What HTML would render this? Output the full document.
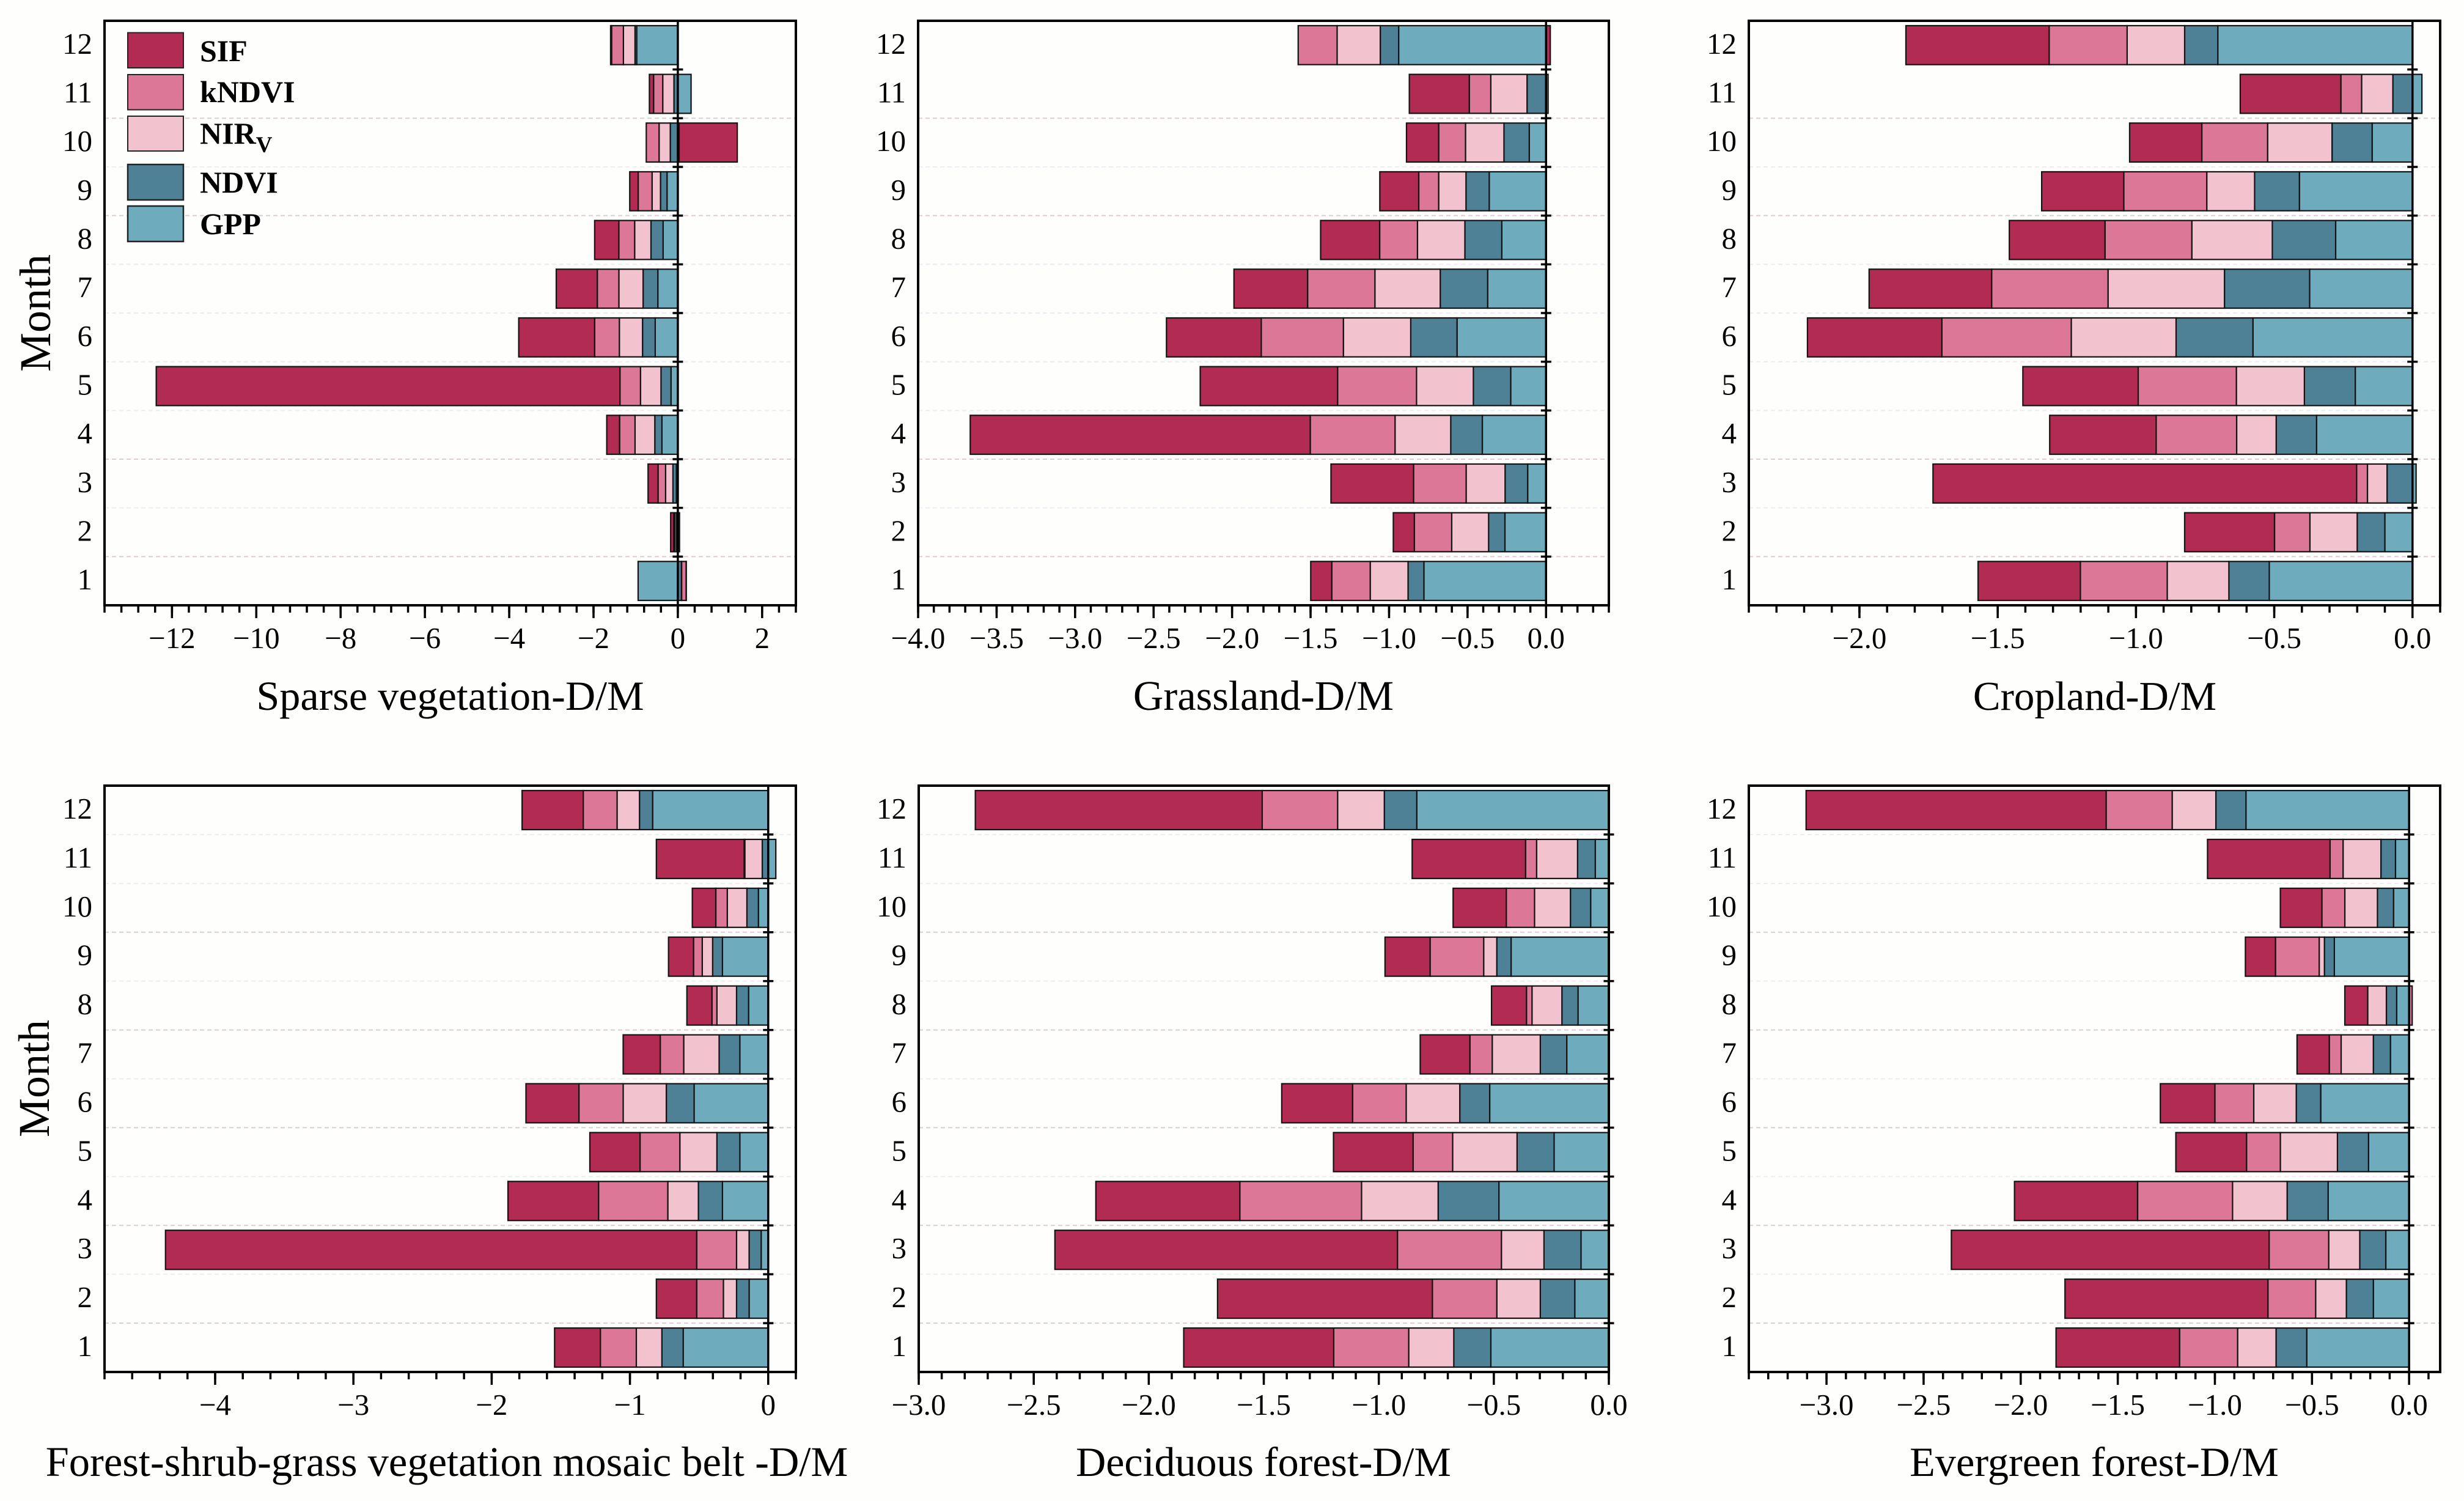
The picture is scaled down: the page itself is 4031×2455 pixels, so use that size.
<!DOCTYPE html>
<html lang="en">
<head>
<meta charset="utf-8">
<title>Monthly D/M stacked bars by vegetation type</title>
<style>
html,body{margin:0;padding:0;background:#fefefd;}
svg{display:block;}
text{font-family:"Liberation Serif",serif;fill:#000;}
</style>
</head>
<body>
<svg id="chart" xmlns="http://www.w3.org/2000/svg" width="4031" height="2455" viewBox="0 0 4031 2455">
<rect x="0" y="0" width="4031" height="2455" fill="#fefefd"/>
<g id="panels"></g>
<text transform="translate(82,512) rotate(-90)" text-anchor="middle" font-size="72">Month</text>
<text transform="translate(80,1764) rotate(-90)" text-anchor="middle" font-size="72">Month</text>
<g>
<rect x="209" y="53.5" width="91" height="57.5" fill="#b22b52" stroke="#222" stroke-width="2"/>
<rect x="209" y="122" width="91" height="57.5" fill="#dd7797" stroke="#222" stroke-width="2"/>
<rect x="209" y="190" width="91" height="57" fill="#f2c2cf" stroke="#222" stroke-width="2"/>
<rect x="209" y="269" width="91" height="58" fill="#4f8196" stroke="#222" stroke-width="2.5"/>
<rect x="209" y="337" width="91" height="58" fill="#6eacbd" stroke="#222" stroke-width="2.5"/>
<text x="327" y="100" font-size="50" font-weight="bold">SIF</text>
<text x="327" y="167" font-size="50" font-weight="bold">kNDVI</text>
<text x="327" y="235" font-size="50" font-weight="bold">NIR<tspan font-size="37" dy="14">V</tspan></text>
<text x="327" y="315" font-size="50" font-weight="bold">NDVI</text>
<text x="327" y="383" font-size="50" font-weight="bold">GPP</text>
</g>
</svg>
<script>
// Categories
const months = [1,2,3,4,5,6,7,8,9,10,11,12];

// Values are month 1 to month 12. Negative values stack left of zero, positive values stack right.
const sparseGPP   = [-0.942,0.04,-0.034,-0.377,-0.162,-0.537,-0.474,-0.35,-0.256,0.03,0.314,-0.976];
const sparseNDVI  = [0.087,-0.03,-0.082,-0.169,-0.237,-0.30,-0.35,-0.287,-0.155,-0.179,-0.092,-0.04];
const sparseNIRV  = [0.004,-0.04,-0.174,-0.469,-0.487,-0.55,-0.574,-0.387,-0.2,-0.266,-0.266,-0.275];
const sparseKNDVI = [0.106,-0.03,-0.179,-0.367,-0.487,-0.587,-0.512,-0.375,-0.33,-0.304,-0.217,-0.28];
const sparseSIF   = [0.004,-0.07,-0.237,-0.304,-11.0,-1.8,-0.974,-0.574,-0.2,1.38,-0.10,-0.024];

const grassGPP   = [-0.778,-0.262,-0.117,-0.406,-0.225,-0.567,-0.372,-0.282,-0.362,-0.107,0.013,-0.939];
const grassNDVI  = [-0.101,-0.104,-0.144,-0.201,-0.238,-0.295,-0.302,-0.235,-0.148,-0.161,-0.121,-0.117];
const grassNIRV  = [-0.241,-0.235,-0.248,-0.355,-0.362,-0.429,-0.416,-0.302,-0.174,-0.245,-0.231,-0.275];
const grassKNDVI = [-0.245,-0.238,-0.335,-0.54,-0.503,-0.523,-0.429,-0.241,-0.127,-0.171,-0.137,-0.248];
const grassSIF   = [-0.134,-0.134,-0.526,-2.166,-0.875,-0.604,-0.469,-0.376,-0.248,-0.205,-0.382,0.027];

const cropGPP   = [-0.518,-0.1,0.013,-0.347,-0.207,-0.577,-0.372,-0.278,-0.409,-0.146,0.034,-0.704];
const cropNDVI  = [-0.146,-0.1,-0.092,-0.146,-0.184,-0.278,-0.308,-0.229,-0.162,-0.145,-0.071,-0.12];
const cropNIRV  = [-0.223,-0.171,-0.071,-0.143,-0.246,-0.379,-0.421,-0.291,-0.173,-0.233,-0.113,-0.208];
const cropKNDVI = [-0.314,-0.128,-0.039,-0.291,-0.355,-0.468,-0.421,-0.314,-0.30,-0.238,-0.075,-0.282];
const cropSIF   = [-0.37,-0.325,-1.532,-0.385,-0.417,-0.486,-0.443,-0.346,-0.297,-0.261,-0.364,-0.518];

const mosaicGPP   = [-0.615,-0.138,-0.051,-0.331,-0.205,-0.536,-0.205,-0.142,-0.331,-0.071,0.055,-0.836];
const mosaicNDVI  = [-0.154,-0.091,-0.087,-0.174,-0.166,-0.201,-0.15,-0.087,-0.071,-0.083,-0.043,-0.095];
const mosaicNIRV  = [-0.185,-0.095,-0.091,-0.221,-0.268,-0.312,-0.256,-0.142,-0.075,-0.142,-0.126,-0.162];
const mosaicKNDVI = [-0.26,-0.193,-0.288,-0.501,-0.288,-0.32,-0.17,-0.036,-0.063,-0.083,-0.005,-0.245];
const mosaicSIF   = [-0.331,-0.292,-3.842,-0.655,-0.363,-0.383,-0.268,-0.181,-0.181,-0.17,-0.635,-0.442];

const deciduousGPP   = [-0.513,-0.148,-0.121,-0.478,-0.238,-0.518,-0.183,-0.134,-0.425,-0.079,-0.059,-0.835];
const deciduousNDVI  = [-0.161,-0.15,-0.161,-0.264,-0.161,-0.13,-0.115,-0.07,-0.062,-0.088,-0.077,-0.141];
const deciduousNIRV  = [-0.196,-0.189,-0.185,-0.333,-0.28,-0.233,-0.209,-0.13,-0.057,-0.156,-0.178,-0.203];
const deciduousKNDVI = [-0.326,-0.28,-0.452,-0.529,-0.172,-0.233,-0.097,-0.024,-0.233,-0.123,-0.048,-0.328];
const deciduousSIF   = [-0.652,-0.934,-1.489,-0.626,-0.346,-0.308,-0.216,-0.152,-0.196,-0.231,-0.493,-1.247];

const evergreenGPP   = [-0.527,-0.184,-0.12,-0.417,-0.209,-0.455,-0.096,-0.064,-0.385,-0.08,-0.07,-0.84];
const evergreenNDVI  = [-0.158,-0.139,-0.134,-0.211,-0.16,-0.126,-0.088,-0.053,-0.051,-0.083,-0.075,-0.155];
const evergreenNIRV  = [-0.198,-0.158,-0.16,-0.281,-0.294,-0.219,-0.166,-0.096,-0.027,-0.168,-0.195,-0.225];
const evergreenKNDVI = [-0.299,-0.246,-0.307,-0.489,-0.174,-0.2,-0.061,0.016,-0.225,-0.118,-0.067,-0.34];
const evergreenSIF   = [-0.636,-1.045,-1.636,-0.634,-0.364,-0.281,-0.166,-0.118,-0.155,-0.214,-0.631,-1.545];

// Tick values and their printed labels
const sparseTicks = [-12,-10,-8,-6,-4,-2,0,2];
const sparseTickLabels = ["\u221212","\u221210","\u22128","\u22126","\u22124","\u22122","0","2"];
const grassTicks = [-4,-3.5,-3,-2.5,-2,-1.5,-1,-0.5,0];
const grassTickLabels = ["\u22124.0","\u22123.5","\u22123.0","\u22122.5","\u22122.0","\u22121.5","\u22121.0","\u22120.5","0.0"];
const cropTicks = [-2,-1.5,-1,-0.5,0];
const cropTickLabels = ["\u22122.0","\u22121.5","\u22121.0","\u22120.5","0.0"];
const mosaicTicks = [-4,-3,-2,-1,0];
const mosaicTickLabels = ["\u22124","\u22123","\u22122","\u22121","0"];
const deciduousTicks = [-3,-2.5,-2,-1.5,-1,-0.5,0];
const deciduousTickLabels = ["\u22123.0","\u22122.5","\u22122.0","\u22121.5","\u22121.0","\u22120.5","0.0"];
const evergreenTicks = [-3,-2.5,-2,-1.5,-1,-0.5,0];
const evergreenTickLabels = ["\u22123.0","\u22122.5","\u22122.0","\u22121.5","\u22121.0","\u22120.5","0.0"];

// Month boundaries where the dashed separators are drawn darker
const strongGridTop = [1.5,3.5,8.5,10.5];
const strongGridBottom = [1.5,3.5,5.5,7.5,9.5];

const seriesNames = ["gpp","ndvi","nirv","kndvi","sif"];
const seriesColors = {gpp:"#6eacbd",ndvi:"#4f8196",nirv:"#f2c2cf",kndvi:"#dd7797",sif:"#b22b52"};

const panels = [
 {id:"sparse",title:"Sparse vegetation-D/M",titleX:736.5,titleSize:68.2,box:[171,1302,34,990],dom:[-13.6,2.8],minor:0.4,ticks:sparseTicks,labels:sparseTickLabels,series:[sparseGPP,sparseNDVI,sparseNIRV,sparseKNDVI,sparseSIF],strong:strongGridTop,tickY:1060,titleY:1161,lastGrid:10.5},
 {id:"grassland",title:"Grassland-D/M",titleX:2067,titleSize:68.5,box:[1502,2632,34,990],dom:[-4,0.4],minor:0.1,ticks:grassTicks,labels:grassTickLabels,series:[grassGPP,grassNDVI,grassNIRV,grassKNDVI,grassSIF],strong:strongGridTop,tickY:1060,titleY:1161,lastGrid:10.5},
 {id:"cropland",title:"Cropland-D/M",titleX:3427,titleSize:67,box:[2861,3992,34,990],dom:[-2.4,0.1],minor:0.1,ticks:cropTicks,labels:cropTickLabels,series:[cropGPP,cropNDVI,cropNIRV,cropKNDVI,cropSIF],strong:strongGridTop,tickY:1060,titleY:1161,lastGrid:10.5},
 {id:"mosaic",title:"Forest-shrub-grass vegetation mosaic belt -D/M",titleX:731,titleSize:68.5,box:[171,1302,1285,2244],dom:[-4.8,0.2],minor:0.2,ticks:mosaicTicks,labels:mosaicTickLabels,series:[mosaicGPP,mosaicNDVI,mosaicNIRV,mosaicKNDVI,mosaicSIF],strong:strongGridBottom,tickY:2314,titleY:2414,lastGrid:11.5},
 {id:"deciduous",title:"Deciduous forest-D/M",titleX:2067,titleSize:68,box:[1503,2632,1285,2244],dom:[-3,0],minor:0.1,ticks:deciduousTicks,labels:deciduousTickLabels,series:[deciduousGPP,deciduousNDVI,deciduousNIRV,deciduousKNDVI,deciduousSIF],strong:strongGridBottom,tickY:2314,titleY:2414,lastGrid:11.5},
 {id:"evergreen",title:"Evergreen forest-D/M",titleX:3426,titleSize:68.3,box:[2861,3992,1285,2244],dom:[-3.4,0.16],minor:0.1,ticks:evergreenTicks,labels:evergreenTickLabels,series:[evergreenGPP,evergreenNDVI,evergreenNIRV,evergreenKNDVI,evergreenSIF],strong:strongGridBottom,tickY:2314,titleY:2414,lastGrid:11.5}
];

const NS = "http://www.w3.org/2000/svg";
function make(tag, attrs, parent){
  const el = document.createElementNS(NS, tag);
  for (const k in attrs) el.setAttribute(k, attrs[k]);
  parent.appendChild(el);
  return el;
}

const root = document.getElementById("panels");
panels.forEach(function(p){
  const left=p.box[0], right=p.box[1], top=p.box[2], bottom=p.box[3];
  const xScale = function(v){ return left + (v-p.dom[0])/(p.dom[1]-p.dom[0])*(right-left); };
  const yScale = function(m){ return bottom - (m-0.5)/12*(bottom-top); };
  const band = (bottom-top)/12;

  const g = make("g", {}, root);
  
  

  // separators between months
  for (let b=1.5; b<=p.lastGrid; b+=1){
    const isStrong = p.strong.indexOf(b) >= 0;
    const grid = make("line", {x1:left,x2:right,y1:yScale(b),y2:yScale(b),stroke:isStrong?"#dccdd3":"#eeecf2","stroke-width":2,"stroke-dasharray":"7 5"}, g);
    
    
  }

  // stacked bars
  months.forEach(function(m, i){
    let neg=0, pos=0;
    p.series.forEach(function(values, s){
      const v = values[i];
      let a, c;
      if (v<0){ a=neg+v; c=neg; neg=a; } else { a=pos; c=pos+v; pos=c; }
      const bar = make("rect", {x:xScale(a),y:yScale(m)-band*0.4,width:Math.max(xScale(c)-xScale(a),0),height:band*0.8,fill:seriesColors[seriesNames[s]],stroke:"#141414","stroke-width":2.2}, g);
      
      
    });
    const lab = make("text", {x:left-20,y:yScale(m)+14,"text-anchor":"end","font-size":49}, g);
    lab.textContent = String(m);
    
    
  });

  // zero axis with short month ticks
  const zero = make("line", {x1:xScale(0),x2:xScale(0),y1:top,y2:bottom,stroke:"#000","stroke-width":3.5}, g);
  
  
  for (let b=1.5; b<=11.5; b+=1){
    const t = make("line", {x1:xScale(0)-8.5,x2:xScale(0)+8.5,y1:yScale(b),y2:yScale(b),stroke:"#000","stroke-width":3.5}, g);
    
    
  }

  // frame
  const frame = make("rect", {x:left,y:top,width:right-left,height:bottom-top,fill:"none",stroke:"#000","stroke-width":4}, g);
  
  

  // minor ticks
  const kStart = Math.ceil(p.dom[0]/p.minor - 1e-6), kEnd = Math.floor(p.dom[1]/p.minor + 1e-6);
  for (let k=kStart; k<=kEnd; k++){
    const v = k*p.minor;
    const mt = make("line", {x1:xScale(v),x2:xScale(v),y1:bottom,y2:bottom+12,stroke:"#000","stroke-width":3.5}, g);
    
    
  }

  // major ticks and labels
  p.ticks.forEach(function(v, i){
    const mj = make("line", {x1:xScale(v),x2:xScale(v),y1:bottom,y2:bottom+21,stroke:"#000","stroke-width":3.5}, g);
    
    
    const tl = make("text", {x:xScale(v),y:p.tickY,"text-anchor":"middle","font-size":49}, g);
    tl.textContent = p.labels[i];
    
    
  });

  const title = make("text", {x:p.titleX,y:p.titleY,"text-anchor":"middle","font-size":p.titleSize}, g);
  title.textContent = p.title;
  
  
});
</script>
</body>
</html>
